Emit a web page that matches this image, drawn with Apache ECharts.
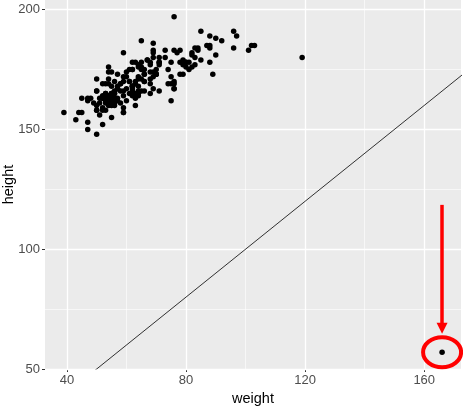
<!DOCTYPE html>
<html>
<head>
<meta charset="utf-8">
<script src="https://cdn.jsdelivr.net/npm/echarts@6/dist/echarts.min.js"></script>
<style>
  html, body { margin: 0; padding: 0; background: #fff; }
  #main { width: 463px; height: 407px; }
</style>
</head>
<body>
<div id="main"></div>
<script>
// weight / height of 200 people, one bad record at (166, 57)
var weight = [
  77,58,53,68,59,76,76,69,71,65,
  70,166,51,64,52,65,92,62,76,61,
  119,61,65,66,54,50,63,58,39,101,
  71,75,79,52,68,64,56,69,88,65,
  54,80,63,78,85,54,73,49,54,75,
  82,56,74,102,64,65,66,73,75,57,
  68,71,71,78,97,60,64,64,52,80,
  62,66,55,56,50,50,50,63,69,69,
  61,55,53,60,56,59,62,53,57,57,
  70,56,84,69,88,56,103,50,52,55,
  55,63,47,45,62,53,52,57,64,59,
  84,79,55,67,76,62,83,96,75,65,
  78,69,68,55,67,52,47,45,68,44,
  62,87,56,50,83,53,64,62,90,85,
  66,52,53,54,64,55,55,59,70,88,
  57,47,47,55,48,54,69,59,58,57,
  51,54,53,59,56,59,63,66,96,53,
  76,54,61,82,62,71,60,66,81,68,
  80,43,82,63,70,56,60,58,76,50,
  88,89,59,51,62,74,83,81,90,79
];
var height = [
  182,161,161,177,157,170,167,186,178,171,
  175,57,161,168,163,166,187,168,197,175,
  180,170,175,173,171,166,169,166,157,183,
  166,178,173,164,169,176,166,174,178,187,
  164,178,163,183,179,160,180,161,174,162,
  182,165,169,185,177,176,170,183,172,173,
  165,177,180,173,189,162,165,164,158,178,
  175,173,165,163,166,171,160,160,182,183,
  165,168,169,167,170,182,178,165,163,162,
  173,161,184,180,189,165,185,158,159,155,
  164,178,163,163,175,164,152,167,166,166,
  183,179,174,179,167,168,184,184,169,178,
  178,167,178,165,179,169,153,157,171,157,
  166,185,160,148,177,162,172,167,188,191,
  175,163,165,176,171,160,165,157,173,184,
  168,162,150,162,163,169,172,170,169,167,
  163,161,162,172,163,159,170,166,191,158,
  169,163,170,176,168,178,174,170,178,174,
  176,154,181,165,173,162,172,169,183,158,
  185,173,164,156,164,175,180,175,181,177
];
var xTicks = [40, 80, 120, 160];
var xMinor = [60, 100, 140];
var yTicks = [50, 100, 150, 200];
var yMinor = [75, 125, 175];
var outlier = [166, 57];
var arrowFrom = [166, 118.5];
var arrowTo = [166, 67];

// ggplot style 5% padding
function padRange(arr) {
  var lo = Math.min.apply(null, arr), hi = Math.max.apply(null, arr);
  var pad = (hi - lo) * 0.05;
  return [lo - pad, hi + pad];
}
var xr = padRange(weight);
var yr = padRange(height);

var points = [];
for (var i = 0; i < weight.length; i++) {
  points.push([weight[i], height[i]]);
}

var gridLines = [];
xTicks.forEach(function (v) { gridLines.push({ xAxis: v, lineStyle: { width: 1.3 } }); });
yTicks.forEach(function (v) { gridLines.push({ yAxis: v, lineStyle: { width: 1.3 } }); });
xMinor.forEach(function (v) { gridLines.push({ xAxis: v, lineStyle: { width: 0.6 } }); });
yMinor.forEach(function (v) { gridLines.push({ yAxis: v, lineStyle: { width: 0.6 } }); });

var font = '"Liberation Sans", Arial, sans-serif';
var chart = echarts.init(document.getElementById('main'), null, { renderer: 'canvas' });

var option = {
  animation: false,
  backgroundColor: '#fff',
  grid: {
    left: 45, right: 2, top: 0, bottom: 38,
    outerBoundsMode: 'none',
    containLabel: false,
    show: true, backgroundColor: '#EBEBEB', borderWidth: 0
  },
  xAxis: {
    type: 'value',
    min: xr[0], max: xr[1],
    name: 'weight',
    nameLocation: 'middle',
    nameGap: 22,
    nameMoveOverlap: false,
    nameTextStyle: { color: '#000', fontSize: 14.5, fontFamily: font },
    axisLine: { show: false },
    axisTick: { show: true, length: 3, customValues: xTicks, lineStyle: { color: '#333', width: 1 } },
    axisLabel: { customValues: xTicks, color: '#4D4D4D', fontSize: 13, fontFamily: font, margin: 5 },
    splitLine: { show: false }
  },
  yAxis: {
    type: 'value',
    min: yr[0], max: yr[1],
    name: 'height',
    nameLocation: 'middle',
    nameGap: 36,
    nameMoveOverlap: false,
    nameTextStyle: { color: '#000', fontSize: 14.5, fontFamily: font, verticalAlign: 'middle' },
    axisLine: { show: false },
    axisTick: { show: true, length: 3, customValues: yTicks, lineStyle: { color: '#333', width: 1 } },
    axisLabel: { customValues: yTicks, color: '#4D4D4D', fontSize: 13, fontFamily: font, margin: 5 },
    splitLine: { show: false }
  },
  series: [
    {
      // white panel grid lines, kept under the points
      name: 'grid',
      type: 'line',
      data: [],
      z: 1,
      silent: true,
      markLine: {
        z: 1,
        silent: true,
        symbol: 'none',
        label: { show: false },
        lineStyle: { color: '#fff', type: 'solid' },
        data: gridLines
      }
    },
    {
      name: 'abline',
      type: 'line',
      data: [[0, 0], [250, 250]],
      showSymbol: false,
      clip: true,
      z: 3,
      lineStyle: { color: '#000', width: 0.8 }
    },
    {
      name: 'points',
      type: 'scatter',
      data: points,
      symbolSize: 5.5,
      z: 4,
      itemStyle: { color: '#000', opacity: 1 }
    },
    {
      name: 'arrow',
      type: 'line',
      data: [],
      z: 5,
      markLine: {
        z: 6,
        silent: true,
        symbol: ['none', 'triangle'],
        symbolSize: 11,
        label: { show: false },
        lineStyle: { color: '#FF0000', width: 3.5, type: 'solid', opacity: 1 },
        itemStyle: { color: '#FF0000' },
        data: [[{ coord: arrowFrom }, { coord: arrowTo }]]
      }
    }
  ]
};
chart.setOption(option);

// circle round the outlier
var c = chart.convertToPixel({ gridIndex: 0 }, outlier);
chart.setOption({
  graphic: [{
    type: 'ellipse',
    shape: { cx: c[0], cy: c[1], rx: 19, ry: 15 },
    style: { fill: 'none', stroke: '#FF0000', lineWidth: 4 },
    z: 10
  }]
});
</script>
</body>
</html>
